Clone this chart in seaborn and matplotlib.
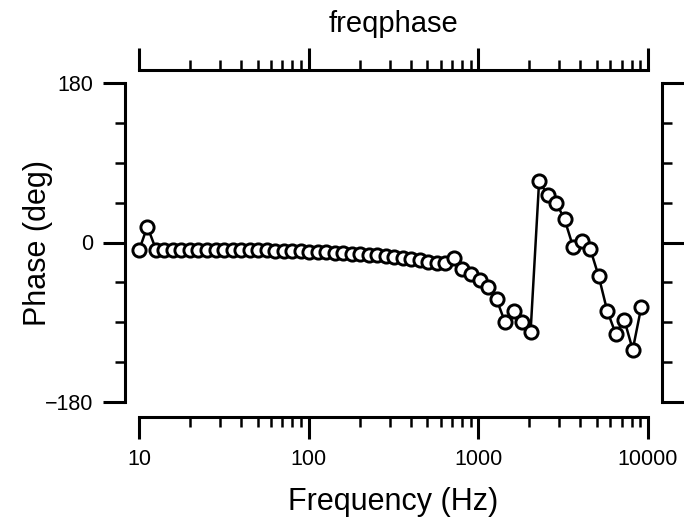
import matplotlib
matplotlib.use('Agg')
import matplotlib.pyplot as plt
import seaborn as sns
import pandas as pd
from matplotlib.ticker import FixedLocator, NullFormatter, FixedFormatter

# Data (1/6-octave frequencies)
freq_hz = [10, 11.2, 12.6, 14.1, 15.9, 17.8, 20, 22.4, 25.2, 28.3,
           31.7, 35.6, 40, 44.9, 50.4, 56.6, 63.5, 71.3, 80, 89.8,
           100.8, 113, 127, 143, 160, 180, 202, 226, 254, 285,
           320, 359, 403, 453, 508, 570, 640, 718, 806, 905,
           1016, 1140, 1280, 1437, 1613, 1810, 2032, 2281, 2560, 2874,
           3225, 3620, 4064, 4561, 5120, 5747, 6451, 7241, 8128, 9123]
phase_deg = [-9, 18, -8, -8, -8, -8, -8, -8, -8, -8,
             -8.5, -8.5, -8.5, -9, -9, -9, -9.5, -9.5, -10, -10,
             -10.5, -11, -11, -11.5, -12, -12.5, -13, -14, -14.5, -15.5,
             -16.5, -17.5, -19, -20, -22, -23, -23, -17, -30, -36,
             -42, -50, -64, -90, -77, -90, -101, 69, 54, 45,
             26, -5, 2, -7, -38, -77, -103, -87, -121, -73]

x_major = [10, 100, 1000, 10000]
x_major_labels = ["10", "100", "1000", "10000"]
x_minor = [20, 30, 40, 50, 60, 70, 80, 90,
           200, 300, 400, 500, 600, 700, 800, 900,
           2000, 3000, 4000, 5000, 6000, 7000, 8000, 9000]
y_major = [-180, 0, 180]
y_major_labels = ["\u2212180", "0", "180"]
y_minor = [-135, -90, -45, 45, 90, 135]

title_text = "freqphase"
x_label = "Frequency (Hz)"
y_label = "Phase (deg)"

df = pd.DataFrame({"freq": freq_hz, "phase": phase_deg})

sns.set_style("ticks")
plt.rcParams['font.family'] = ['Liberation Sans', 'DejaVu Sans']
plt.rcParams['text.color'] = 'black'
plt.rcParams['axes.labelcolor'] = 'black'
plt.rcParams['xtick.color'] = 'black'
plt.rcParams['ytick.color'] = 'black'

fig = plt.figure(figsize=(6.84, 5.25), dpi=100)
W, H = 684, 525
left_px, right_px, top_px, bot_px = 139, 648, 83, 402
ax = fig.add_axes([left_px / W, (H - bot_px) / H,
                   (right_px - left_px) / W, (bot_px - top_px) / H])

sns.lineplot(data=df, x="freq", y="phase", ax=ax, color="black",
             linewidth=1.8, marker="o", markersize=9.5,
             markerfacecolor="white", markeredgecolor="black",
             markeredgewidth=2.1, estimator=None, sort=False, clip_on=False)

ax.set_xscale("log")
ax.set_xlim(10, 10000)
ax.set_ylim(-180, 180)

ax.xaxis.set_major_locator(FixedLocator(x_major))
ax.xaxis.set_major_formatter(FixedFormatter(x_major_labels))
ax.xaxis.set_minor_locator(FixedLocator(x_minor))
ax.xaxis.set_minor_formatter(NullFormatter())
ax.yaxis.set_major_locator(FixedLocator(y_major))
ax.yaxis.set_major_formatter(FixedFormatter(y_major_labels))
ax.yaxis.set_minor_locator(FixedLocator(y_minor))

for side in ["left", "right", "top", "bottom"]:
    ax.spines[side].set_visible(True)
    ax.spines[side].set_linewidth(2.2)
    ax.spines[side].set_color("black")
ax.spines["left"].set_position(("outward", 10))
ax.spines["right"].set_position(("outward", 10))
ax.spines["top"].set_position(("outward", 9.4))
ax.spines["bottom"].set_position(("outward", 10.8))

ax.tick_params(which="both", direction="out", top=True, right=True,
               labeltop=False, labelright=False, colors="black",
               labelcolor="black")
ax.tick_params(which="major", length=16, width=2.2, labelsize=15.5, pad=7)
ax.tick_params(which="minor", length=7.5, width=1.8)

ax.set_xlabel(x_label, fontsize=22, color="black")
ax.set_ylabel(y_label, fontsize=22, color="black")
ax.xaxis.set_label_coords(0.5, -0.265)
ax.yaxis.set_label_coords(-0.168, 0.5)
ax.text(0.5, 1.186, title_text, transform=ax.transAxes, ha="center",
        va="center", fontsize=21, color="black")

ax.grid(False)
fig.savefig("out.png", dpi=100)
